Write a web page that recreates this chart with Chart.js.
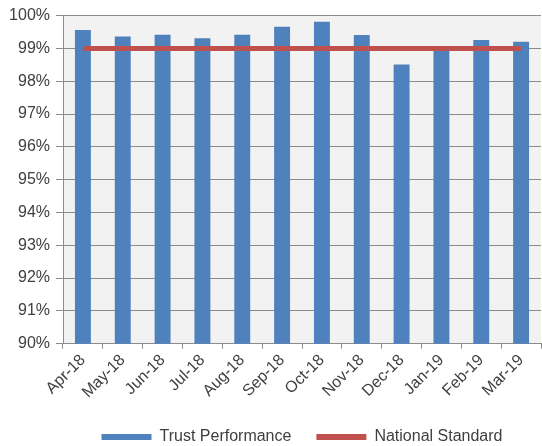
<!DOCTYPE html>
<html>
<head>
<meta charset="utf-8">
<script src="https://cdn.jsdelivr.net/npm/chart.js@4.4.0/dist/chart.umd.min.js"></script>
<style>
  html, body { margin: 0; padding: 0; background: #ffffff; }
  #wrap { width: 542px; height: 446px; position: relative; }
</style>
</head>
<body>
<div id="wrap"><canvas id="chart"></canvas></div>
<script>
// Monthly performance against the national standard
const months = ['Apr-18', 'May-18', 'Jun-18', 'Jul-18', 'Aug-18', 'Sep-18',
                'Oct-18', 'Nov-18', 'Dec-18', 'Jan-19', 'Feb-19', 'Mar-19'];
const trustPerformance = [99.56, 99.36, 99.42, 99.31, 99.42, 99.66,
                          99.81, 99.41, 98.51, 98.97, 99.26, 99.20];
const nationalStandard = [99, 99, 99, 99, 99, 99, 99, 99, 99, 99, 99, 99];
const yMin = 90;
const yMax = 100;

const textColor = '#404040';
const fontFamily = '"Liberation Sans", Arial, sans-serif';

// Light grey fill behind the plotting area
const plotBackground = {
  id: 'plotBackground',
  beforeDraw(chart) {
    const { ctx, chartArea: a } = chart;
    ctx.save();
    ctx.fillStyle = '#f2f2f2';
    ctx.fillRect(a.left, a.top, a.right - a.left, a.bottom - a.top);
    ctx.restore();
  }
};

new Chart(document.getElementById('chart'), {
  type: 'bar',
  data: {
    labels: months,
    datasets: [
      {
        type: 'line',
        label: 'National Standard',
        data: nationalStandard,
        borderColor: '#c0504d',
        backgroundColor: '#c0504d',
        borderWidth: 5,
        pointRadius: 0,
        order: 0
      },
      {
        label: 'Trust Performance',
        data: trustPerformance,
        backgroundColor: '#4f81bd',
        borderWidth: 0,
        barPercentage: 0.4,
        categoryPercentage: 1.0,
        order: 1
      }
    ]
  },
  options: {
    responsive: true,
    maintainAspectRatio: false,
    animation: false,
    layout: { padding: { left: 0, right: 1, top: 8, bottom: 0 } },
    plugins: {
      tooltip: { enabled: false },
      legend: {
        position: 'bottom',
        fullSize: false,
        maxHeight: 42,
        reverse: true,
        labels: {
          color: textColor,
          font: { family: fontFamily, size: 16 },
          boxWidth: 50,
          boxHeight: 6,
          padding: 25,
          generateLabels(chart) {
            return chart.data.datasets.map((ds, i) => ({
              text: ds.label,
              fillStyle: ds.backgroundColor,
              strokeStyle: ds.backgroundColor,
              lineWidth: 0,
              hidden: false,
              datasetIndex: i,
              fontColor: textColor
            }));
          }
        }
      }
    },
    scales: {
      x: {
        offset: true,
        border: { color: '#8c8c8c', width: 1 },
        grid: {
          offset: true,
          drawOnChartArea: false,
          drawTicks: true,
          tickLength: 5,
          color: '#8c8c8c'
        },
        ticks: {
          color: textColor,
          font: { family: fontFamily, size: 16 },
          minRotation: 45,
          maxRotation: 45,
          padding: 2
        }
      },
      y: {
        min: yMin,
        max: yMax,
        border: { color: '#8c8c8c', width: 1 },
        grid: {
          color: '#8c8c8c',
          lineWidth: 1,
          drawTicks: true,
          tickLength: 7
        },
        ticks: {
          stepSize: 1,
          color: textColor,
          font: { family: fontFamily, size: 16 },
          padding: 6,
          callback: v => v + '%'
        },
        afterFit(scale) { scale.width = 63; }
      }
    }
  },
  plugins: [plotBackground]
});
</script>
</body>
</html>
